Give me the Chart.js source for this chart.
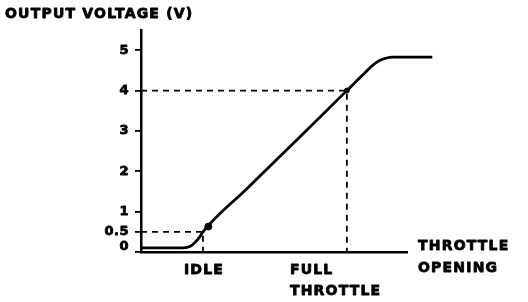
<!DOCTYPE html>
<html>
<head>
<meta charset="utf-8">
<script src="https://cdn.jsdelivr.net/npm/chart.js@4.4.1/dist/chart.umd.min.js"></script>
<style>
  html, body { margin: 0; padding: 0; background: #fff; }
  #wrap { width: 528px; height: 302px; }
</style>
</head>
<body>
<div id="wrap"><canvas id="c" width="528" height="302"></canvas></div>
<script>
// ---- data ----
const yTickValues = [0, 0.5, 1, 2, 3, 4, 5];
const idleX = 23.3;          // throttle opening at idle
const fullX = 77.4;          // throttle opening at full throttle
const idleV = 0.5;
const fullV = 4.0;
const curveX = [0, 16, 18.5, 20.5, 22, 23.3, 40, 60, 77.4, 84, 87, 89.5, 92, 94.5, 109.5];
const curveV = [0.1, 0.1, 0.14, 0.25, 0.37, 0.5, 1.58, 2.87, 4.0, 4.43, 4.62, 4.74, 4.80, 4.83, 4.83];
const markX = [25.3, 77.4];
const markV = [0.63, 4.0];
const titleText = "OUTPUT VOLTAGE (V)";
const xAxisText = ["THROTTLE", "OPENING"];
const idleText = ["IDLE"];
const fullText = ["FULL", "THROTTLE"];

const FONT = "bold 14px 'DejaVu Sans'";

const curve = curveX.map((x, i) => ({ x, y: curveV[i] }));
const marks = markX.map((x, i) => ({ x, y: markV[i] }));
const idleGuide = [{ x: 0, y: idleV }, { x: idleX, y: idleV }, { x: idleX, y: 0 }];
const fullGuide = [{ x: 0, y: fullV }, { x: fullX, y: fullV }, { x: fullX, y: 0 }];

function heavyText(ctx, t, x, y) {
  ctx.strokeText(t, x, y);
  ctx.fillText(t, x, y);
}

const textPlugin = {
  id: 'texts',
  afterDraw(chart) {
    const ctx = chart.ctx;
    const xs = chart.scales.x;
    const ys = chart.scales.y;
    ctx.save();
    ctx.fillStyle = '#000';
    ctx.strokeStyle = '#000';
    ctx.lineWidth = 0.8;
    ctx.lineJoin = 'round';
    ctx.font = FONT;
    ctx.letterSpacing = '1.2px';
    ctx.textBaseline = 'middle';
    ctx.textAlign = 'left';
    heavyText(ctx, titleText, 5, 14);
    xAxisText.forEach((t, i) => heavyText(ctx, t, xs.right + 11, 246 + i * 22));
    fullText.forEach((t, i) => heavyText(ctx, t, xs.getPixelForValue(fullX) - 57, 270 + i * 21));
    ctx.textAlign = 'center';
    idleText.forEach((t, i) => heavyText(ctx, t, xs.getPixelForValue(idleX) + 1, 270 + i * 21));
    // y tick labels
    ctx.font = "bold 13px 'DejaVu Sans'";
    ctx.letterSpacing = '0.5px';
    ctx.textAlign = 'right';
    yTickValues.forEach(v => {
      const yy = ys.getPixelForValue(v) + (v === 0 ? -5 : 0);
      heavyText(ctx, String(v), xs.left - 12, yy);
    });
    ctx.restore();
  }
};

new Chart(document.getElementById('c'), {
  type: 'scatter',
  data: {
    datasets: [
      { data: curve, showLine: true, borderColor: '#000', borderWidth: 2.8, pointRadius: 0,
        cubicInterpolationMode: 'monotone', clip: false },
      { data: idleGuide, showLine: true, borderColor: '#000', borderWidth: 1.8, borderDash: [6, 5],
        pointRadius: 0, tension: 0 },
      { data: fullGuide, showLine: true, borderColor: '#000', borderWidth: 1.8, borderDash: [6, 5],
        pointRadius: 0, tension: 0 },
      { data: marks, showLine: false, backgroundColor: '#000', borderColor: '#000',
        pointRadius: [3.5, 2.5], pointHoverRadius: 0 }
    ]
  },
  options: {
    responsive: false,
    animation: false,
    events: [],
    layout: { padding: { top: 30, right: 121, bottom: 50, left: 0 } },
    plugins: { legend: { display: false }, tooltip: { enabled: false }, title: { display: false } },
    scales: {
      x: {
        type: 'linear', min: 0, max: 100,
        ticks: { display: false },
        grid: { display: false },
        border: { display: true, color: '#000', width: 2.5 },
        afterFit(s) { s.height = 0; }
      },
      y: {
        type: 'linear', min: 0, max: 5.5,
        afterBuildTicks(s) { s.ticks = yTickValues.map(v => ({ value: v })); },
        ticks: { display: false },
        grid: { drawOnChartArea: false, drawTicks: true, tickLength: 6, color: '#000', lineWidth: 1.8 },
        border: { display: true, color: '#000', width: 2.5 },
        afterFit(s) { s.width = 141; }
      }
    }
  },
  plugins: [textPlugin]
});
</script>
</body>
</html>
